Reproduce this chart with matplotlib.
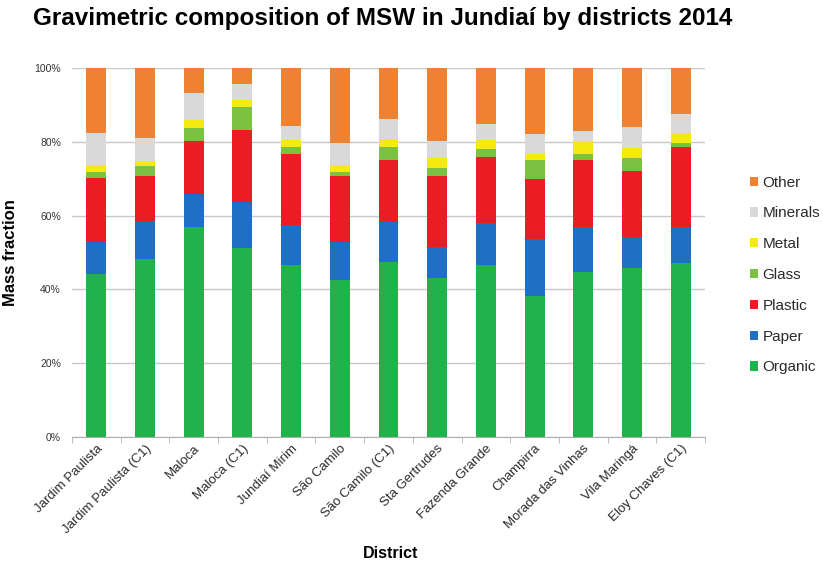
import matplotlib.pyplot as plt
import numpy as np
from matplotlib.ticker import PercentFormatter, FixedLocator

plt.rcParams['font.family'] = ['Liberation Sans', 'DejaVu Sans']

# districts (x categories)
districts = ['Jardim Paulista', 'Jardim Paulista (C1)', 'Maloca', 'Maloca (C1)',
             'Jundiaí Mirim', 'São Camilo', 'São Camilo (C1)', 'Sta Gertrudes',
             'Fazenda Grande', 'Champirra', 'Morada das Vinhas', 'Vila Maringá',
             'Eloy Chaves (C1)']

# mass fractions in %
organic  = [44.2, 48.2, 57.0, 51.3, 46.6, 42.5, 47.5, 43.2, 46.6, 38.2, 44.8, 45.9, 47.1]
paper    = [8.6, 10.4, 8.9, 12.5, 10.9, 10.4, 10.9, 8.2, 11.3, 15.4, 12.2, 8.2, 9.7]
plastic  = [17.5, 12.2, 14.2, 19.5, 19.2, 17.7, 16.7, 19.4, 18.1, 16.3, 18.1, 18.1, 21.9]
glass    = [1.6, 2.7, 3.6, 6.1, 2.0, 1.1, 3.5, 2.1, 2.0, 5.2, 1.6, 3.4, 1.1]
metal    = [1.9, 1.3, 2.3, 1.8, 1.8, 2.1, 2.1, 2.7, 2.4, 1.6, 3.4, 2.7, 2.6]
minerals = [8.6, 6.2, 7.2, 4.4, 3.9, 6.0, 5.5, 4.5, 4.5, 5.5, 2.9, 5.6, 5.1]
other    = [17.6, 19.0, 6.8, 4.4, 15.6, 20.2, 13.8, 19.9, 15.1, 17.8, 17.0, 16.1, 12.5]

series = [('Organic', organic, '#21b24b'),
          ('Paper', paper, '#1f6fc5'),
          ('Plastic', plastic, '#ec1c24'),
          ('Glass', glass, '#7cc242'),
          ('Metal', metal, '#f5ea10'),
          ('Minerals', minerals, '#d9d9d9'),
          ('Other', other, '#ef8133')]

fig = plt.figure(figsize=(8.23, 5.68), dpi=100)
ax = fig.add_axes([72 / 823, 1 - 437 / 568, 633 / 823, 369 / 568])

x = np.arange(len(districts))
bottom = np.zeros(len(districts))
for name, vals, col in series:
    v = np.array(vals) / 100
    ax.bar(x, v, 0.41, bottom=bottom, color=col, label=name, zorder=3)
    bottom += v

ax.set_xlim(-0.5, len(districts) - 0.5)
ax.set_ylim(0, 1)
ax.yaxis.set_major_locator(FixedLocator([0, 0.2, 0.4, 0.6, 0.8, 1.0]))
ax.yaxis.set_major_formatter(PercentFormatter(1.0, decimals=0))
ax.grid(axis='y', color='#c8c8c8', linewidth=1, zorder=0)
for s in ['top', 'right', 'left']:
    ax.spines[s].set_visible(False)
ax.spines['bottom'].set_color('#b0b0b0')

ax.set_xticks(x)
ax.set_xticklabels(districts, rotation=45, ha='right', rotation_mode='anchor',
                   fontsize=9.5, color='#2a2a2a')
ax.set_xticks(np.arange(-0.5, len(districts), 1), minor=True)
ax.tick_params(axis='x', which='major', length=0, pad=4)
ax.tick_params(axis='x', which='minor', length=4, color='#b0b0b0')
ax.tick_params(axis='y', length=0, labelsize=7.5, colors='#333333', pad=8)

fig.text(391 / 823, 1 - 554 / 568, 'District', fontsize=11.5, fontweight='bold',
         ha='center', va='center')
ax.set_ylabel('Mass fraction', fontsize=12, fontweight='bold', labelpad=12)

fig.suptitle('Gravimetric composition of MSW in Jundiaí by districts 2014',
             fontsize=17.5, fontweight='bold', x=383 / 823, y=1 - 19 / 568, va='center')

handles, labels = ax.get_legend_handles_labels()
fig.legend(handles[::-1], labels[::-1], loc='center left',
           bbox_to_anchor=(736 / 823, 1 - 275 / 568), frameon=False,
           fontsize=11, handlelength=0.55, handleheight=0.55, handletextpad=0.3,
           labelspacing=1.1, labelcolor='#2a2a2a')

fig.savefig('out.png', dpi=100)
